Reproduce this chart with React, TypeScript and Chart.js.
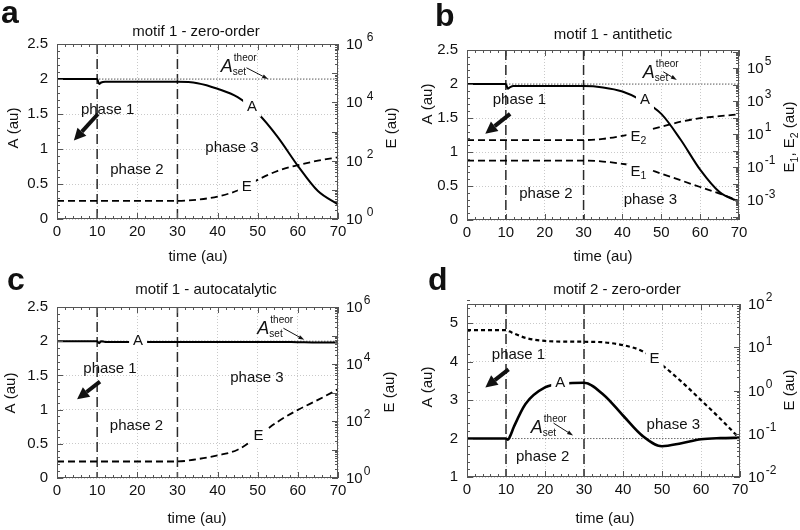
import React, { useEffect, useRef } from "react";
import { Chart, registerables } from "chart.js";

Chart.register(...registerables);

const FONT = "'Liberation Sans', Arial, Helvetica, sans-serif";
Chart.defaults.font.family = FONT;

// ---------------- data ----------------
const TIME = [0, 5, 10, 10.5, 11, 12, 15, 20, 25, 30, 35, 40, 45, 50, 55, 60, 65, 70];
const PHASE_BOUNDS = [10, 30];
const A_SET = 2;
const X_TICKS = [0, 10, 20, 30, 40, 50, 60, 70];
const A_TICKS_LOW = [0, 0.5, 1, 1.5, 2, 2.5];
const A_TICKS_HIGH = [1, 2, 3, 4, 5];
const E_EXP_A = [0, 2, 4, 6];
const E_EXP_B = [-3, -1, 1, 3, 5];
const E_EXP_C = [0, 2, 4, 6];
const E_EXP_D = [-2, -1, 0, 1, 2];

// panel a: motif 1 - zero-order
const A_ZERO = [2, 2, 2, 1.93, 1.95, 1.96, 1.96, 1.96, 1.96, 1.96, 1.94, 1.86, 1.74, 1.51, 1.17, 0.76, 0.4, 0.21];
const E_ZERO = [4.2, 4.2, 4.2, 4.2, 4.2, 4.2, 4.2, 4.2, 4.2, 4.2, 4.6, 5.9, 9.5, 22, 45, 70, 100, 130];
// panel b: motif 1 - antithetic
const A_ANTI = [2, 2, 2, 1.93, 1.95, 1.97, 1.97, 1.97, 1.97, 1.97, 1.95, 1.89, 1.76, 1.56, 1.18, 0.74, 0.41, 0.27];
const E2_ANTI = [4.4, 4.4, 4.4, 4.4, 4.4, 4.4, 4.4, 4.4, 4.4, 4.4, 5.2, 8, 14, 28, 57, 93, 123, 160];
const E1_ANTI = [0.25, 0.25, 0.25, 0.25, 0.25, 0.25, 0.25, 0.25, 0.25, 0.25, 0.22, 0.16, 0.1, 0.04, 0.016, 0.0063, 0.0025, 0.0009];
// panel c: motif 1 - autocatalytic
const A_AUTO = [2, 2, 2, 1.97, 2.0, 1.99, 1.99, 1.99, 1.99, 1.99, 1.99, 1.99, 1.99, 1.99, 1.99, 1.985, 1.98, 1.98];
const E_AUTO = [3.8, 3.8, 3.8, 3.8, 3.8, 3.8, 3.8, 3.8, 3.8, 3.8, 4.6, 6.2, 9.8, 29, 95, 245, 550, 1300];
// panel d: motif 2 - zero-order
const A_M2 = [2, 2, 2, 1.97, 2.05, 2.3, 2.9, 3.33, 3.43, 3.45, 3.14, 2.6, 2.07, 1.8, 1.88, 1.98, 2.01, 2.02];
const E_M2 = [25, 25, 25, 24, 23, 21, 16.5, 14, 13.5, 13.4, 13, 11.2, 8.1, 3.9, 1.6, 0.6, 0.22, 0.076];

// ---------------- helpers ----------------
type Seg = { t: string; sub?: boolean; sup?: boolean; italic?: boolean };
type Label = { x: number; y: number; segs: Seg[]; bg?: boolean };
type Series = { values: number[]; axis: "y" | "y1"; dashed: boolean };
type Spec = {
  key: string;
  left: number;
  top: number;
  pad: { l: number; r: number; t: number; b: number };
  letter: string;
  letterPos: [number, number];
  title: string;
  titlePos: [number, number];
  yTitlePos: [number, number];
  eTitle: Seg[];
  eTitlePos: [number, number];
  xTitlePos: [number, number];
  aMin: number;
  aMax: number;
  aTicks: number[];
  aMinor: number;
  eMin: number;
  eMax: number;
  eExps: number[];
  supGap: number;
  series: Series[];
  labels: Label[];
  phaseArrow: [number, number, number, number];
  setArrow: [number, number, number, number];
  setLabel: [number, number];
  eDash: number[];
  eWidth: number;
  aWidth: number;
};

const pts = (ys: number[]) => TIME.map((t, i) => ({ x: t, y: ys[i] }));

function fontOf(size: number, s?: Seg) {
  const sz = s && (s.sub || s.sup) ? size * 0.7 : size;
  return `${s && s.italic ? "italic " : ""}${sz}px ${FONT}`;
}

function drawRich(ctx: CanvasRenderingContext2D, segs: Seg[], x: number, y: number, size: number, bg = false) {
  ctx.textBaseline = "middle";
  ctx.textAlign = "left";
  const widths = segs.map((s) => {
    ctx.font = fontOf(size, s);
    return ctx.measureText(s.t).width;
  });
  const total = widths.reduce((a, b) => a + b, 0);
  let cx = x - total / 2;
  if (bg) {
    ctx.fillStyle = "#fff";
    ctx.fillRect(cx - 4, y - size * 0.55, total + 8, size * 1.2);
  }
  ctx.fillStyle = "#111";
  segs.forEach((s, i) => {
    ctx.font = fontOf(size, s);
    const dy = s.sub ? size * 0.32 : s.sup ? -size * 0.4 : 0;
    ctx.fillText(s.t, cx, y + dy);
    cx += widths[i];
  });
}

function arrow(ctx: CanvasRenderingContext2D, x1: number, y1: number, x2: number, y2: number, lw: number, hl: number, hw: number) {
  const ang = Math.atan2(y2 - y1, x2 - x1);
  const bx = x2 - hl * Math.cos(ang);
  const by = y2 - hl * Math.sin(ang);
  ctx.lineWidth = lw;
  ctx.setLineDash([]);
  ctx.beginPath();
  ctx.moveTo(x1, y1);
  ctx.lineTo(bx, by);
  ctx.stroke();
  ctx.beginPath();
  ctx.moveTo(x2, y2);
  ctx.lineTo(bx + (hw / 2) * Math.sin(ang), by - (hw / 2) * Math.cos(ang));
  ctx.lineTo(bx - (hw / 2) * Math.sin(ang), by + (hw / 2) * Math.cos(ang));
  ctx.closePath();
  ctx.fill();
}

function decor(spec: Spec) {
  return {
    id: "decor" + spec.key,
    beforeDatasetsDraw(chart: any) {
      const { ctx, chartArea: ca, scales } = chart;
      ctx.save();
      ctx.strokeStyle = "#2a2a2a";
      ctx.lineWidth = 1.5;
      ctx.setLineDash([10, 5]);
      for (const t of PHASE_BOUNDS) {
        const px = scales.x.getPixelForValue(t);
        ctx.beginPath();
        ctx.moveTo(px, ca.top);
        ctx.lineTo(px, ca.bottom);
        ctx.stroke();
      }
      ctx.restore();
    },
    afterDatasetsDraw(chart: any) {
      const { ctx, chartArea: ca, scales } = chart;
      const xs = scales.x;
      const ys = scales.y;
      const es = scales.y1;
      ctx.save();
      // frame
      ctx.strokeStyle = "#555";
      ctx.lineWidth = 1;
      ctx.setLineDash([]);
      ctx.strokeRect(ca.left + 0.5, ca.top + 0.5, ca.right - ca.left - 1, ca.bottom - ca.top - 1);
      // ticks
      ctx.beginPath();
      for (let v = 0; v <= 70 + 1e-9; v += 2) {
        const px = Math.round(xs.getPixelForValue(v)) + 0.5;
        const L = Math.abs(v % 10) < 1e-6 ? 6 : 3;
        ctx.moveTo(px, ca.bottom);
        ctx.lineTo(px, ca.bottom - L);
        ctx.moveTo(px, ca.top);
        ctx.lineTo(px, ca.top + L);
      }
      const nA = Math.round((spec.aMax - spec.aMin) / spec.aMinor);
      for (let i = 0; i <= nA; i++) {
        const v = spec.aMin + i * spec.aMinor;
        const major = spec.aTicks.some((t) => Math.abs(t - v) < 1e-6);
        const py = Math.round(ys.getPixelForValue(v)) + 0.5;
        ctx.moveTo(ca.left, py);
        ctx.lineTo(ca.left + (major ? 6 : 3), py);
      }
      const e0 = Math.floor(Math.log10(spec.eMin));
      const e1 = Math.ceil(Math.log10(spec.eMax));
      for (let e = e0; e <= e1; e++) {
        for (let m = 1; m <= 9; m++) {
          const v = m * Math.pow(10, e);
          if (v < spec.eMin || v > spec.eMax) continue;
          const py = Math.round(es.getPixelForValue(v)) + 0.5;
          ctx.moveTo(ca.right, py);
          ctx.lineTo(ca.right - (m === 1 ? 6 : 3), py);
        }
      }
      ctx.stroke();

      // right axis labels (10^n)
      ctx.fillStyle = "#111";
      ctx.textAlign = "left";
      ctx.textBaseline = "middle";
      for (const tk of es.ticks) {
        const v = tk.value;
        const e = Math.round(Math.log10(v));
        const py = es.getPixelForValue(v);
        ctx.font = `15px ${FONT}`;
        const x0 = ca.right + 8;
        ctx.fillText("10", x0, py + 1);
        const w = ctx.measureText("10").width;
        ctx.font = `12px ${FONT}`;
        ctx.fillText(String(e), x0 + w + spec.supGap, py - 6);
      }

      // setpoint label and arrow
      ctx.fillStyle = "#111";
      ctx.strokeStyle = "#111";
      const [sx, sy] = spec.setLabel;
      const spx = xs.getPixelForValue(sx);
      const spy = ys.getPixelForValue(sy);
      ctx.textAlign = "center";
      ctx.textBaseline = "middle";
      ctx.font = `italic 18px ${FONT}`;
      ctx.fillText("A", spx, spy);
      ctx.textAlign = "left";
      ctx.textBaseline = "alphabetic";
      ctx.font = `10px ${FONT}`;
      ctx.fillText("theor", spx + 7, spy - 6);
      ctx.fillText("set", spx + 6, spy + 8);
      const sa = spec.setArrow;
      arrow(ctx, xs.getPixelForValue(sa[0]), ys.getPixelForValue(sa[1]), xs.getPixelForValue(sa[2]), ys.getPixelForValue(sa[3]), 1, 6, 4);

      // phase 1 arrow
      const pa = spec.phaseArrow;
      arrow(ctx, xs.getPixelForValue(pa[0]), ys.getPixelForValue(pa[1]), xs.getPixelForValue(pa[2]), ys.getPixelForValue(pa[3]), 4, 12, 12);

      // text labels
      for (const lb of spec.labels) {
        drawRich(ctx, lb.segs, xs.getPixelForValue(lb.x), ys.getPixelForValue(lb.y), 15, !!lb.bg);
      }
      ctx.restore();
    },
    afterDraw(chart: any) {
      const { ctx } = chart;
      ctx.save();
      ctx.fillStyle = "#111";
      // panel letter
      ctx.textAlign = "left";
      ctx.textBaseline = "alphabetic";
      ctx.font = `bold 32px ${FONT}`;
      ctx.fillText(spec.letter, spec.letterPos[0], spec.letterPos[1]);
      // title
      ctx.textAlign = "center";
      ctx.textBaseline = "middle";
      ctx.font = `15px ${FONT}`;
      ctx.fillText(spec.title, spec.titlePos[0], spec.titlePos[1]);
      ctx.fillText("time (au)", spec.xTitlePos[0], spec.xTitlePos[1]);
      // y title
      ctx.save();
      ctx.translate(spec.yTitlePos[0], spec.yTitlePos[1]);
      ctx.rotate(-Math.PI / 2);
      ctx.fillText("A (au)", 0, 0);
      ctx.restore();
      ctx.save();
      ctx.translate(spec.eTitlePos[0], spec.eTitlePos[1]);
      ctx.rotate(-Math.PI / 2);
      drawRich(ctx, spec.eTitle, 0, 0, 15);
      ctx.restore();
      ctx.restore();
    },
  };
}

function buildConfig(spec: Spec): any {
  const tickFont = { family: FONT, size: 15 };
  const datasets: any[] = spec.series.map((s) => ({
    data: pts(s.values),
    yAxisID: s.axis,
    borderColor: "#000",
    borderWidth: s.dashed ? spec.eWidth : spec.aWidth,
    borderDash: s.dashed ? spec.eDash : [],
    pointRadius: 0,
    cubicInterpolationMode: "monotone",
    fill: false,
  }));
  datasets.push({
    data: [
      { x: 0, y: A_SET },
      { x: 70, y: A_SET },
    ],
    yAxisID: "y",
    borderColor: "#6e6e6e",
    borderWidth: 1,
    borderDash: [1.5, 1.5],
    pointRadius: 0,
    fill: false,
  });
  return {
    type: "line",
    data: { datasets },
    options: {
      responsive: false,
      animation: false,
      devicePixelRatio: 1,
      events: [],
      layout: { padding: { top: spec.pad.t, left: 0, right: 0, bottom: 0 } },
      plugins: { legend: { display: false }, tooltip: { enabled: false }, title: { display: false } },
      scales: {
        x: {
          type: "linear",
          min: 0,
          max: 70,
          afterBuildTicks: (s: any) => {
            s.ticks = X_TICKS.map((v) => ({ value: v }));
          },
          afterFit: (s: any) => {
            s.height = spec.pad.b;
          },
          ticks: { font: tickFont, color: "#111", padding: 4, maxRotation: 0, autoSkip: false, callback: (v: any) => String(v) },
          grid: { color: "#c9c9c9", lineWidth: 1, drawTicks: false },
          border: { display: false, dash: [1, 2] },
        },
        y: {
          type: "linear",
          position: "left",
          min: spec.aMin,
          max: spec.aMax,
          afterBuildTicks: (s: any) => {
            s.ticks = spec.aTicks.map((v) => ({ value: v }));
          },
          afterFit: (s: any) => {
            s.width = spec.pad.l;
          },
          ticks: { font: tickFont, color: "#111", padding: 9, autoSkip: false, callback: (v: any) => String(v) },
          grid: { color: "#c9c9c9", lineWidth: 1, drawTicks: false },
          border: { display: false, dash: [1, 2] },
        },
        y1: {
          type: "logarithmic",
          position: "right",
          min: spec.eMin,
          max: spec.eMax,
          afterBuildTicks: (s: any) => {
            s.ticks = spec.eExps.map((e) => ({ value: Math.pow(10, e) }));
          },
          afterFit: (s: any) => {
            s.width = spec.pad.r;
          },
          ticks: { display: false },
          grid: { display: false },
          border: { display: false },
        },
      },
    },
    plugins: [decor(spec)],
  };
}

// ---------------- panels ----------------
const SPECS: Spec[] = [
  {
    key: "a",
    left: 0,
    top: 0,
    pad: { l: 57, r: 62, t: 44, b: 46 },
    letter: "a",
    letterPos: [1, 23],
    title: "motif 1 - zero-order",
    titlePos: [196, 32],
    yTitlePos: [14, 128],
    eTitle: [{ t: "E (au)" }],
    eTitlePos: [392, 128],
    xTitlePos: [198, 257],
    aMin: 0,
    aMax: 2.5,
    aTicks: A_TICKS_LOW,
    aMinor: 0.1,
    eMin: 1,
    eMax: 1e6,
    eExps: E_EXP_A,
    supGap: 4,
    series: [
      { values: A_ZERO, axis: "y", dashed: false },
      { values: E_ZERO, axis: "y1", dashed: true },
    ],
    labels: [
      { x: 12.6, y: 1.56, segs: [{ t: "phase 1" }] },
      { x: 19.9, y: 0.7, segs: [{ t: "phase 2" }] },
      { x: 43.6, y: 1.02, segs: [{ t: "phase 3" }] },
      { x: 48.6, y: 1.6, segs: [{ t: "A" }], bg: true },
      { x: 47.3, y: 0.46, segs: [{ t: "E" }], bg: true },
    ],
    phaseArrow: [10.2, 1.5, 4.2, 1.12],
    setArrow: [47.2, 2.16, 52.6, 2.0],
    setLabel: [42.3, 2.17],
    eDash: [7, 4],
    eWidth: 1.8,
    aWidth: 2,
  },
  {
    key: "b",
    left: 400,
    top: 0,
    pad: { l: 67, r: 61, t: 50, b: 45 },
    letter: "b",
    letterPos: [35, 26],
    title: "motif 1 - antithetic",
    titlePos: [213, 35],
    yTitlePos: [28, 104],
    eTitle: [{ t: "E" }, { t: "1", sub: true }, { t: ", E" }, { t: "2", sub: true }, { t: " (au)" }],
    eTitlePos: [390, 137],
    xTitlePos: [203, 257],
    aMin: 0,
    aMax: 2.5,
    aTicks: A_TICKS_LOW,
    aMinor: 0.1,
    eMin: Math.pow(10, -4.2),
    eMax: Math.pow(10, 6.1),
    eExps: E_EXP_B,
    supGap: 1,
    series: [
      { values: A_ANTI, axis: "y", dashed: false },
      { values: E2_ANTI, axis: "y1", dashed: true },
      { values: E1_ANTI, axis: "y1", dashed: true },
    ],
    labels: [
      { x: 13.5, y: 1.76, segs: [{ t: "phase 1" }] },
      { x: 20.3, y: 0.39, segs: [{ t: "phase 2" }] },
      { x: 47.2, y: 0.29, segs: [{ t: "phase 3" }] },
      { x: 45.8, y: 1.76, segs: [{ t: "A" }], bg: true },
      { x: 44.1, y: 1.225, segs: [{ t: "E" }, { t: "2", sub: true }], bg: true },
      { x: 44.1, y: 0.71, segs: [{ t: "E" }, { t: "1", sub: true }], bg: true },
    ],
    phaseArrow: [11.1, 1.56, 4.7, 1.27],
    setArrow: [50.5, 2.18, 54.0, 2.06],
    setLabel: [46.8, 2.16],
    eDash: [7, 4],
    eWidth: 1.8,
    aWidth: 2,
  },
  {
    key: "c",
    left: 0,
    top: 265,
    pad: { l: 57, r: 62, t: 42, b: 52 },
    letter: "c",
    letterPos: [7, 25],
    title: "motif 1 - autocatalytic",
    titlePos: [206, 25],
    yTitlePos: [11, 128],
    eTitle: [{ t: "E (au)" }],
    eTitlePos: [390, 127],
    xTitlePos: [197, 254],
    aMin: 0,
    aMax: 2.5,
    aTicks: A_TICKS_LOW,
    aMinor: 0.1,
    eMin: 1,
    eMax: 1e6,
    eExps: E_EXP_C,
    supGap: 1,
    series: [
      { values: A_AUTO, axis: "y", dashed: false },
      { values: E_AUTO, axis: "y1", dashed: true },
    ],
    labels: [
      { x: 13.2, y: 1.59, segs: [{ t: "phase 1" }] },
      { x: 19.8, y: 0.76, segs: [{ t: "phase 2" }] },
      { x: 49.8, y: 1.46, segs: [{ t: "phase 3" }] },
      { x: 20.2, y: 2.0, segs: [{ t: "A" }], bg: true },
      { x: 50.2, y: 0.61, segs: [{ t: "E" }], bg: true },
    ],
    phaseArrow: [10.7, 1.41, 5.0, 1.15],
    setArrow: [56.4, 2.19, 61.6, 2.02],
    setLabel: [51.4, 2.18],
    eDash: [7, 4],
    eWidth: 1.8,
    aWidth: 2,
  },
  {
    key: "d",
    left: 400,
    top: 265,
    pad: { l: 67, r: 60, t: 39, b: 53 },
    letter: "d",
    letterPos: [28, 25],
    title: "motif 2 - zero-order",
    titlePos: [217, 25],
    yTitlePos: [28, 122],
    eTitle: [{ t: "E (au)" }],
    eTitlePos: [390, 125],
    xTitlePos: [205, 254],
    aMin: 1,
    aMax: 5.5,
    aTicks: A_TICKS_HIGH,
    aMinor: 0.2,
    eMin: 0.01,
    eMax: 100,
    eExps: E_EXP_D,
    supGap: 1,
    series: [
      { values: A_M2, axis: "y", dashed: false },
      { values: E_M2, axis: "y1", dashed: true },
    ],
    labels: [
      { x: 13.2, y: 4.18, segs: [{ t: "phase 1" }] },
      { x: 19.4, y: 1.53, segs: [{ t: "phase 2" }] },
      { x: 52.9, y: 2.35, segs: [{ t: "phase 3" }] },
      { x: 23.9, y: 3.44, segs: [{ t: "A" }], bg: true },
      { x: 48.1, y: 4.07, segs: [{ t: "E" }], bg: true },
    ],
    phaseArrow: [10.66, 3.8, 4.7, 3.33],
    setArrow: [22.2, 2.4, 27.2, 2.08],
    setLabel: [17.9, 2.27],
    eDash: [4, 3],
    eWidth: 2.2,
    aWidth: 2.6,
  },
];

function Panel({ spec }: { spec: Spec }) {
  const ref = useRef<HTMLCanvasElement | null>(null);
  useEffect(() => {
    if (!ref.current) return;
    const chart = new Chart(ref.current, buildConfig(spec));
    return () => chart.destroy();
  }, [spec]);
  return (
    <canvas
      ref={ref}
      width={400}
      height={265}
      style={{ position: "absolute", left: spec.left, top: spec.top, width: 400, height: 265 }}
    />
  );
}

export default function App() {
  return (
    <div style={{ position: "absolute", left: 0, top: 0, width: 800, height: 530, background: "#fff", overflow: "hidden" }}>
      {SPECS.map((s) => (
        <Panel key={s.key} spec={s} />
      ))}
    </div>
  );
}
